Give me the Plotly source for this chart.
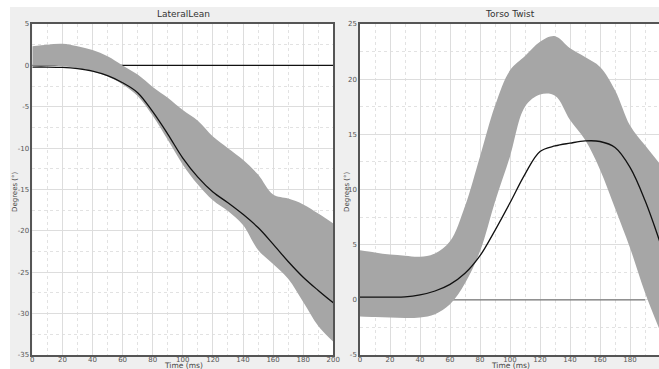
import plotly.graph_objects as go

W, H = 659, 369

# ---------------- data ----------------
time_ms = [0, 10, 20, 30, 40, 50, 60, 70, 80, 90, 100, 110, 120, 130, 140, 150, 160, 170, 180, 190, 200]

lean_mean = [-0.2, -0.2, -0.25, -0.4, -0.7, -1.25, -2.1, -3.3, -5.6, -8.3, -11.2, -13.5, -15.3,
             -16.6, -18.0, -19.6, -21.6, -23.7, -25.6, -27.2, -28.7]
lean_upper = [2.3, 2.5, 2.6, 2.3, 1.85, 1.1, 0.0, -1.1, -2.6, -3.9, -5.4, -6.7, -8.6,
              -10.0, -11.4, -13.2, -15.6, -16.1, -16.8, -17.9, -19.1]
lean_lower = [-0.05, -0.05, -0.1, -0.35, -0.75, -1.35, -2.3, -3.7, -6.1, -9.0, -12.0, -14.4, -16.3,
              -17.6, -19.3, -22.3, -24.0, -25.8, -28.6, -31.5, -33.4]

twist_mean = [0.25, 0.25, 0.25, 0.27, 0.45, 0.8, 1.4, 2.4, 4.0, 6.3, 8.8, 11.4, 13.45,
              13.95, 14.2, 14.4, 14.35, 13.8, 12.0, 9.0, 5.2]
twist_upper = [4.5, 4.3, 4.1, 4.0, 3.9, 4.2, 5.3, 8.5, 13.0, 17.6, 20.8, 22.1, 23.4,
               23.9, 22.8, 22.0, 21.1, 19.0, 15.8, 14.0, 12.3]
twist_lower = [-1.5, -1.55, -1.6, -1.65, -1.6, -1.3, -0.4, 1.5, 4.4, 8.9, 13.0, 17.5, 18.6,
               18.5, 16.3, 14.5, 11.8, 8.3, 4.7, 0.65, -2.8]

ref_time_lean = [0, 200]
ref_time_twist = [0, 190]
ref_value = [0, 0]

lean_yticks = [5, 0, -5, -10, -15, -20, -25, -30, -35]
twist_yticks = [25, 20, 15, 10, 5, 0, -5]
lean_xticks = [0, 20, 40, 60, 80, 100, 120, 140, 160, 180, 200]
twist_xticks = [0, 20, 40, 60, 80, 100, 120, 140, 160, 180]

titles = ["LateralLean", "Torso Twist"]
x_title = "Time (ms)"
y_title = "Degrees (°)"

# ---------------- layout helpers ----------------
def fx(px):
    return px / W

def fy(py):
    return 1 - py / H

BAND = "#a6a6a6"
fig = go.Figure()

# Left panel
fig.add_trace(go.Scatter(x=ref_time_lean, y=ref_value, mode="lines",
                         line=dict(color="#111111", width=1.2), xaxis="x", yaxis="y", hoverinfo="skip"))
fig.add_trace(go.Scatter(x=time_ms, y=lean_upper, mode="lines", line=dict(width=0, shape="spline"),
                         xaxis="x", yaxis="y", hoverinfo="skip"))
fig.add_trace(go.Scatter(x=time_ms, y=lean_lower, mode="lines", line=dict(width=0, shape="spline"),
                         fill="tonexty", fillcolor=BAND, xaxis="x", yaxis="y", hoverinfo="skip"))
fig.add_trace(go.Scatter(x=time_ms, y=lean_mean, mode="lines",
                         line=dict(color="#111111", width=1.3, shape="spline"), xaxis="x", yaxis="y"))

# Right panel
fig.add_trace(go.Scatter(x=ref_time_twist, y=ref_value, mode="lines",
                         line=dict(color="#777777", width=1.3), xaxis="x2", yaxis="y2", hoverinfo="skip"))
fig.add_trace(go.Scatter(x=time_ms, y=twist_upper, mode="lines", line=dict(width=0, shape="spline"),
                         xaxis="x2", yaxis="y2", hoverinfo="skip"))
fig.add_trace(go.Scatter(x=time_ms, y=twist_lower, mode="lines", line=dict(width=0, shape="spline"),
                         fill="tonexty", fillcolor=BAND, xaxis="x2", yaxis="y2", hoverinfo="skip"))
fig.add_trace(go.Scatter(x=time_ms, y=twist_mean, mode="lines",
                         line=dict(color="#111111", width=1.3, shape="spline"), xaxis="x2", yaxis="y2"))

tickfont = dict(family="DejaVu Sans", size=7, color="#555555")

def xaxis(domain, rng, ticks, anchor):
    return dict(domain=domain, range=rng, tickvals=ticks, ticktext=[str(t) for t in ticks],
                anchor=anchor, tickfont=tickfont, showgrid=True, gridcolor="#dddddd", gridwidth=1,
                minor=dict(dtick=10, showgrid=True, gridcolor="#e2e2e2", griddash="dot"),
                showline=True, mirror=True, linecolor="#555555", linewidth=1.5,
                zeroline=False, ticks="", fixedrange=True, automargin=False,
                ticklabelstandoff=-3)

def yaxis(domain, rng, ticks, anchor, dt):
    return dict(domain=domain, range=rng, tickvals=ticks,
                ticktext=[str(t) for t in ticks], anchor=anchor,
                tickfont=tickfont, showgrid=True, gridcolor="#dddddd", gridwidth=1,
                minor=dict(dtick=dt, showgrid=True, gridcolor="#e2e2e2", griddash="dot"),
                showline=True, mirror=True, linecolor="#555555", linewidth=1.5,
                zeroline=False, ticks="", fixedrange=True, automargin=False)

ydom = [fy(355), fy(24)]
fig.update_layout(
    width=W, height=H,
    margin=dict(l=0, r=0, t=0, b=0, pad=0, autoexpand=False),
    paper_bgcolor="white", plot_bgcolor="white",
    showlegend=False,
    xaxis=xaxis([fx(32.3), fx(333.3)], [0, 200], lean_xticks, "y"),
    yaxis=yaxis(ydom, [-35, 5], lean_yticks, "x", 2.5),
    xaxis2=xaxis([fx(360), 1.0], [0, 199.3], twist_xticks, "y2"),
    yaxis2=yaxis(ydom, [-5, 25], twist_yticks, "x2", 2.5),
    shapes=[
        dict(type="rect", xref="paper", yref="paper", x0=fx(10), x1=1.0, y0=0, y1=fy(7),
             fillcolor="#efefef", line=dict(width=0), layer="below"),
        dict(type="rect", xref="paper", yref="paper", x0=fx(32.3), x1=fx(333.3), y0=ydom[0], y1=ydom[1],
             fillcolor="white", line=dict(width=0), layer="below"),
        dict(type="rect", xref="paper", yref="paper", x0=fx(360), x1=1.0, y0=ydom[0], y1=ydom[1],
             fillcolor="white", line=dict(width=0), layer="below"),
    ],
)

ann = []
for title, cx in zip(titles, [183, 510]):
    ann.append(dict(text=title, x=fx(cx), y=fy(14), xref="paper", yref="paper", showarrow=False,
                    xanchor="center", yanchor="middle",
                    font=dict(family="DejaVu Sans", size=9, color="#333333")))
    ann.append(dict(text=x_title, x=fx(cx), y=fy(365), xref="paper", yref="paper", showarrow=False,
                    xanchor="center", yanchor="middle",
                    font=dict(family="DejaVu Sans", size=7.5, color="#444444")))
for cx in [15, 347]:
    ann.append(dict(text=y_title, x=fx(cx), y=fy(192), xref="paper", yref="paper", showarrow=False,
                    textangle=-90, xanchor="center", yanchor="middle",
                    font=dict(family="DejaVu Sans", size=7, color="#444444")))
fig.update_layout(annotations=ann)

post = (
    "document.documentElement.style.cssText='margin:0;padding:0;overflow:hidden;';"
    "document.body.style.cssText='margin:0;padding:0;overflow:hidden;';"
    "var d=document.getElementsByClassName('plotly-graph-div')[0];"
    "d.style.position='absolute';d.style.left='0px';d.style.top='0px';"
)
fig.write_html("out.html", config={"displayModeBar": False}, post_script=post)
